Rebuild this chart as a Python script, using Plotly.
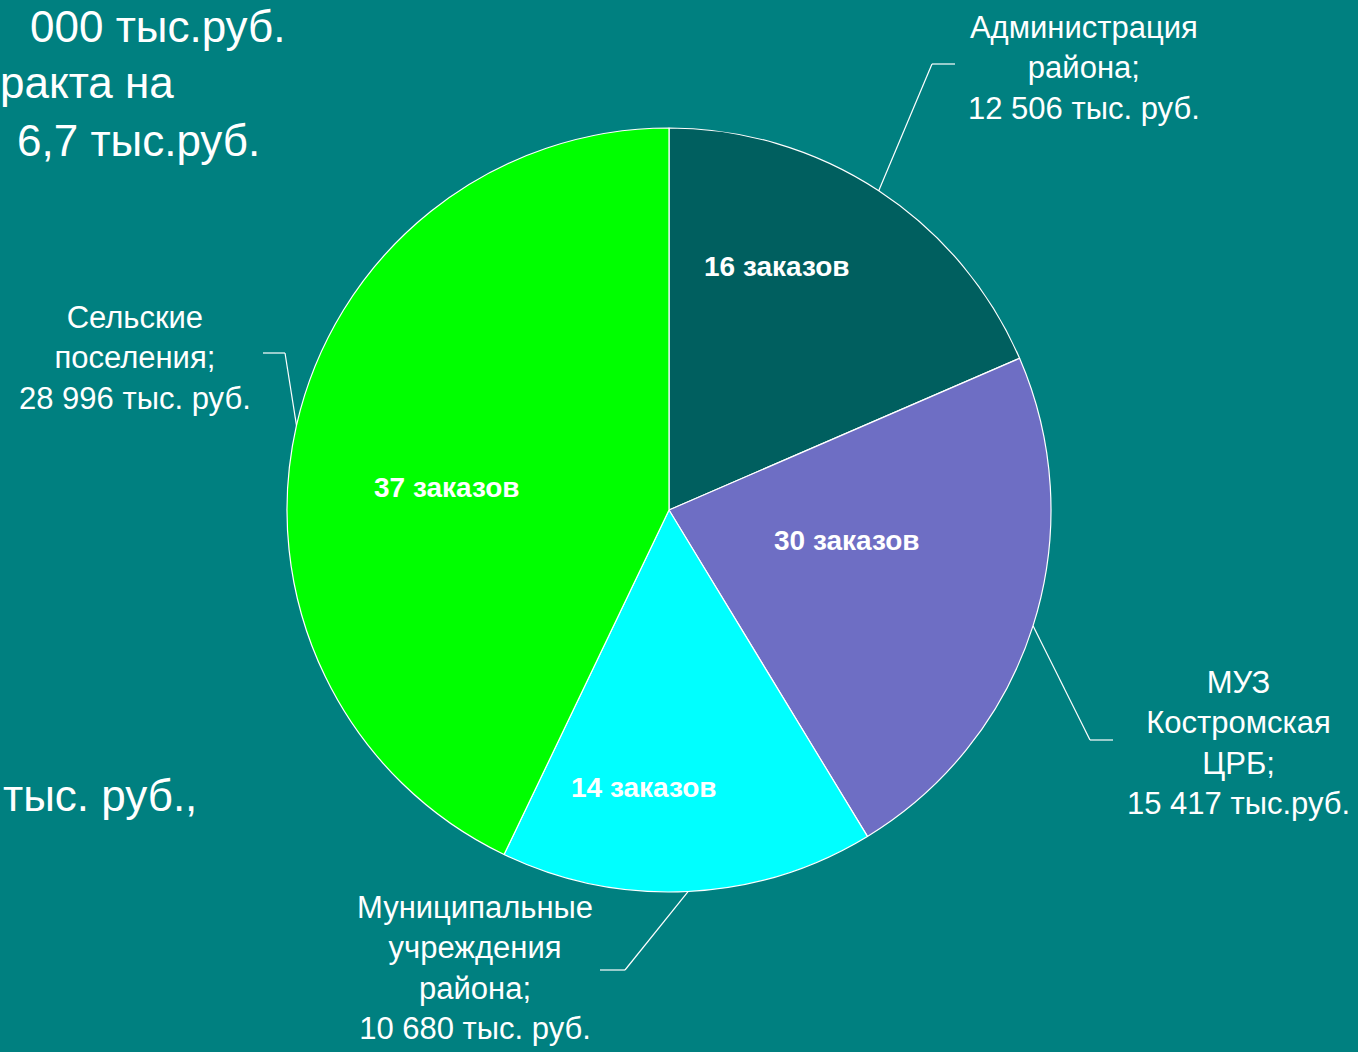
import math
import plotly.graph_objects as go

# ---- data ----
categories = ["Администрация района", "МУЗ Костромская ЦРБ",
              "Муниципальные учреждения района", "Сельские поселения"]
amounts = [12506, 15417, 10680, 28996]          # тыс. руб.
orders = [16, 30, 14, 37]                        # заказов
label_texts = [
    "Администрация<br>района;<br>12 506 тыс. руб.",
    "МУЗ<br>Костромская<br>ЦРБ;<br>15 417 тыс.руб.",
    "Муниципальные<br>учреждения<br>района;<br>10 680 тыс. руб.",
    "Сельские<br>поселения;<br>28 996 тыс. руб.",
]
colors = ["#005F5F", "#6E6EC4", "#00FFFF", "#00FF00"]

W, H = 1358, 1052
BG = "#008080"

# pie geometry (pixels)
CX, CY, R = 669, 510, 382


def px(x):
    return x / W


def py(y):
    return 1 - y / H


fig = go.Figure()
fig.add_trace(go.Pie(
    labels=categories,
    values=amounts,
    textinfo="none",
    marker=dict(colors=colors, line=dict(color="white", width=1.2)),
    sort=False,
    direction="clockwise",
    rotation=0,
    hoverinfo="skip",
    showlegend=False,
    domain=dict(x=[px(CX - R), px(CX + R)], y=[py(CY + R), py(CY - R)]),
))

# inside label placement (pixel centres)
inner_pos = [(777, 267), (847, 540), (644, 787), (447, 487)]

# outside label layout (pixel positions of text centre, elbow, end of leader)
label_layout = [
    dict(tx=1084, ty=68, elbow=(932, 64), end=(955, 64)),
    dict(tx=1238, ty=743, elbow=(1090, 740), end=(1113, 740)),
    dict(tx=475, ty=968, elbow=(625, 970), end=(600, 970)),
    dict(tx=135, ty=358, elbow=(285, 353), end=(263, 353)),
]

total = sum(amounts)
cum = 0
shapes = []
annotations = []
for val, n, txt, lay, ip in zip(amounts, orders, label_texts, label_layout, inner_pos):
    mid = (cum + val / 2) / total * 2 * math.pi
    cum += val
    sx = CX + R * math.sin(mid)
    sy = CY - R * math.cos(mid)
    ex, ey = lay["elbow"]
    fx, fy = lay["end"]
    for (x0, y0, x1, y1) in [(sx, sy, ex, ey), (ex, ey, fx, fy)]:
        shapes.append(dict(type="line", xref="paper", yref="paper",
                           x0=px(x0), y0=py(y0), x1=px(x1), y1=py(y1),
                           line=dict(color="white", width=1.2)))
    annotations.append(dict(text=txt, x=px(lay["tx"]), y=py(lay["ty"]),
                            xref="paper", yref="paper", showarrow=False,
                            xanchor="center", yanchor="middle", align="center",
                            font=dict(family="Liberation Sans, Arial", size=31,
                                      color="white")))
    annotations.append(dict(text=f"{n} заказов", x=px(ip[0]), y=py(ip[1]),
                            xref="paper", yref="paper", showarrow=False,
                            xanchor="center", yanchor="middle",
                            font=dict(family="Liberation Sans, Arial", size=28,
                                      color="white", weight="bold")))

# partially visible slide text on the left
side_texts = ["000 тыс.руб.", "ракта на", "6,7 тыс.руб.", "тыс. руб.,"]
side_pos = [(288, 0), (176, 83), (262, 140), (199, 795)]
for t, (x, y) in zip(side_texts, side_pos):
    annotations.append(dict(text=t, x=px(x), y=py(y), xref="paper", yref="paper",
                            showarrow=False, xanchor="right",
                            yanchor="top" if y < 10 else "middle",
                            font=dict(family="Liberation Sans, Arial", size=44,
                                      color="white")))

fig.update_layout(
    width=W, height=H,
    margin=dict(l=0, r=0, t=0, b=0),
    paper_bgcolor=BG, plot_bgcolor=BG,
    shapes=shapes, annotations=annotations,
)

fig.write_html("out.html", config={"displayModeBar": False},
               post_script="document.body.style.margin='0';")
